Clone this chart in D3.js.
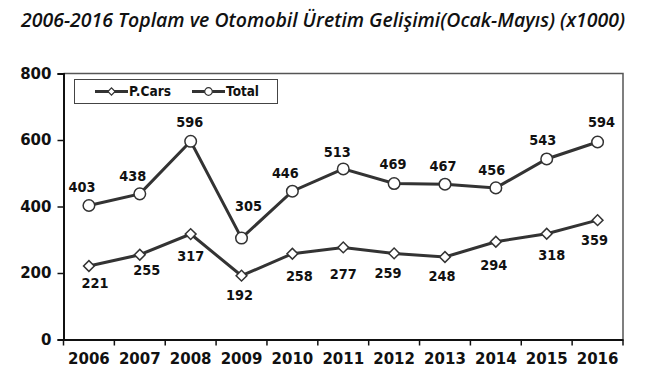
<!DOCTYPE html>
<html>
<head>
<meta charset="utf-8">
<script src="https://cdn.jsdelivr.net/npm/d3@7"></script>
<style>
  body { margin: 0; background: #fff; }
  text { font-family: "DejaVu Sans", Verdana, sans-serif; font-weight: bold; fill: #111; }
</style>
</head>
<body>
<div id="chart"></div>
<script>
// data
var years = ["2006", "2007", "2008", "2009", "2010", "2011", "2012", "2013", "2014", "2015", "2016"];
var carValues = [221, 255, 317, 192, 258, 277, 259, 248, 294, 318, 359];
var totalValues = [403, 438, 596, 305, 446, 513, 469, 467, 456, 543, 594];
var yTicks = [0, 200, 400, 600, 800];

// label nudges (dx, dy) as placed in the original
var carLabelShift = [[6, 17], [7, 15], [0, 22], [-2, 19], [7, 22], [0, 27], [-6, 20], [-3, 19], [-2, 23], [5, 21], [-3, 20]];
var totalLabelShift = [[-7, -19], [-7, -18], [-1, -19], [7, -32], [-7, -18], [-6, -17], [-1, -20], [-2, -18], [-4, -18], [-4, -19], [4, -20]];

var svgWidth = 650;
var svgHeight = 392;

var chartMargin = { top: 73.5, right: 27, bottom: 52.5, left: 63.5 };
var chartWidth = svgWidth - chartMargin.left - chartMargin.right;
var chartHeight = svgHeight - chartMargin.top - chartMargin.bottom;

var svg = d3.select("#chart")
    .append("svg")
    .attr("width", svgWidth)
    .attr("height", svgHeight);

svg.append("text")
    .text("2006-2016 Toplam ve Otomobil Üretim Gelişimi(Ocak-Mayıs) (x1000)")
    .attr("x", 21)
    .attr("y", 27)
    .attr("textLength", 604)
    .attr("lengthAdjust", "spacingAndGlyphs")
    .style("font-family", "'Open Sans', sans-serif")
    .style("font-style", "italic")
    .style("font-weight", "600")
    .style("font-size", "19px");

var chartGroup = svg.append("g")
    .attr("transform", `translate(${chartMargin.left},${chartMargin.top})`);

var xScale = d3.scaleBand()
    .domain(years)
    .range([0, chartWidth]);

var yScale = d3.scaleLinear()
    .domain([0, 800])
    .range([chartHeight, 0]);

var cx = d => xScale(d) + xScale.bandwidth() / 2;

// frame top and right
chartGroup.append("path")
    .attr("d", `M0,0H${chartWidth}V${chartHeight}`)
    .attr("fill", "none")
    .attr("stroke", "#555")
    .attr("stroke-width", 1.5);

// x axis with ticks on the band edges
var bottomAxis = d3.axisBottom(xScale).tickSize(0).tickPadding(14);
var xAxis = chartGroup.append("g")
    .attr("transform", `translate(0, ${chartHeight})`)
    .call(bottomAxis);
xAxis.select(".domain").attr("stroke", "#111").attr("stroke-width", 2);
xAxis.selectAll("text").style("font-size", "15px").attr("fill", "#111");
xAxis.selectAll(".edge")
    .data(d3.range(years.length + 1))
    .enter()
    .append("line")
    .attr("x1", i => i * xScale.step())
    .attr("x2", i => i * xScale.step())
    .attr("y1", 0)
    .attr("y2", 6)
    .attr("stroke", "#111")
    .attr("stroke-width", 1.5);

var leftAxis = d3.axisLeft(yScale).tickValues(yTicks).tickSize(6).tickPadding(6);
var yAxis = chartGroup.append("g").call(leftAxis);
yAxis.select(".domain").attr("stroke", "#111").attr("stroke-width", 2);
yAxis.selectAll(".tick line").attr("stroke", "#111").attr("stroke-width", 1.5);
yAxis.selectAll("text").style("font-size", "15px").attr("fill", "#111");

var line = d3.line()
    .x((d, i) => cx(years[i]))
    .y(d => yScale(d));

var lineColor = "#333";

function drawSeries(values, marker, shifts) {
    chartGroup.append("path")
        .datum(values)
        .attr("d", line)
        .attr("fill", "none")
        .attr("stroke", lineColor)
        .attr("stroke-width", 3);

    chartGroup.append("g").selectAll("path")
        .data(values)
        .enter()
        .append("path")
        .attr("d", marker)
        .attr("transform", (d, i) => `translate(${cx(years[i])},${yScale(d)})` + (marker === diamond ? " rotate(45)" : ""))
        .attr("fill", "#fff")
        .attr("stroke", lineColor)
        .attr("stroke-width", 1.5);

    chartGroup.append("g").selectAll("text")
        .data(values)
        .enter()
        .append("text")
        .text(d => d)
        .attr("x", (d, i) => cx(years[i]) + shifts[i][0])
        .attr("y", (d, i) => yScale(d) + shifts[i][1])
        .attr("dy", "0.36em")
        .attr("text-anchor", "middle")
        .attr("textLength", 27)
        .attr("lengthAdjust", "spacingAndGlyphs")
        .style("font-size", "14px");
}

var diamond = d3.symbol(d3.symbolSquare, 58)();
var circle = d3.symbol(d3.symbolCircle, 105)();

drawSeries(carValues, diamond, carLabelShift);
drawSeries(totalValues, circle, totalLabelShift);

// legend
var legend = svg.append("g");
legend.append("rect")
    .attr("x", 74.5)
    .attr("y", 79.5)
    .attr("width", 203)
    .attr("height", 24)
    .attr("fill", "#fff")
    .attr("stroke", "#444")
    .attr("stroke-width", 1);

var legendItems = [
    { name: "P.Cars", x: 95, w: 42, marker: d3.symbol(d3.symbolSquare, 26)(), rot: " rotate(45)" },
    { name: "Total", x: 192, w: 33, marker: d3.symbol(d3.symbolCircle, 45)(), rot: "" }
];

legendItems.forEach(function(item) {
    legend.append("line")
        .attr("x1", item.x)
        .attr("x2", item.x + 33)
        .attr("y1", 91.5)
        .attr("y2", 91.5)
        .attr("stroke", lineColor)
        .attr("stroke-width", 3);
    legend.append("path")
        .attr("d", item.marker)
        .attr("transform", `translate(${item.x + 16.5},91.5)` + item.rot)
        .attr("fill", "#fff")
        .attr("stroke", lineColor)
        .attr("stroke-width", 1.2);
    legend.append("text")
        .text(item.name)
        .attr("x", item.x + 34)
        .attr("y", 91.5)
        .attr("dy", "0.36em")
        .attr("textLength", item.w)
        .attr("lengthAdjust", "spacingAndGlyphs")
        .style("font-size", "13.5px");
});
</script>
</body>
</html>
